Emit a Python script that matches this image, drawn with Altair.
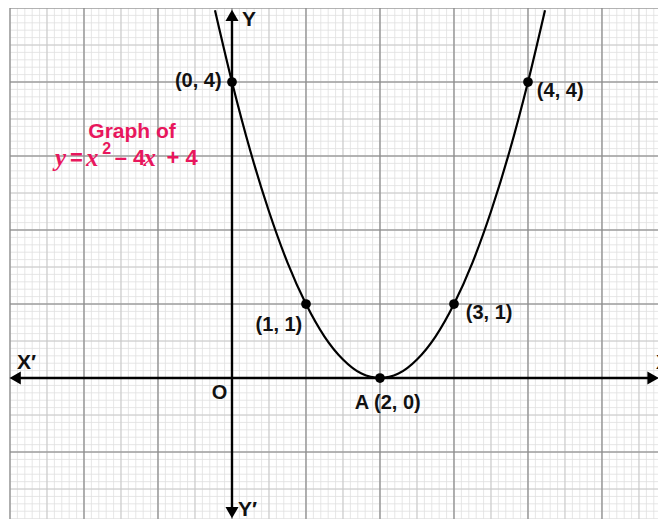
import altair as alt
import pandas as pd

# ---- scale domains (data units) ----
X_MIN, X_MAX = -3.027, 5.757
Y_MIN, Y_MAX = -1.905, 5.0

# ---- parabola y = x^2 - 4x + 4 ----
curve_x = [-0.23, 0, 0.25, 0.5, 0.75, 1, 1.25, 1.5, 1.75, 2, 2.25, 2.5, 2.75, 3, 3.25, 3.5, 3.75, 4, 4.23]
curve_y = [4.97, 4, 3.06, 2.25, 1.56, 1, 0.56, 0.25, 0.06, 0, 0.06, 0.25, 0.56, 1, 1.56, 2.25, 3.06, 4, 4.97]

# ---- plotted points ----
pts_x = [0, 1, 2, 3, 4]
pts_y = [4, 1, 0, 1, 4]

# ---- point labels ----
lab_text = ["(0, 4)", "(4, 4)", "(1, 1)", "(3, 1)", "A (2, 0)", "O"]
lab_x = [-0.14, 4.12, 0.95, 3.16, 1.66, -0.17]
lab_y = [4.01, 3.88, 0.72, 0.88, -0.34, -0.2]
lab_align = ["right", "left", "right", "left", "left", "center"]

# ---- axis names ----
ax_text = ["X\u2032", "Y", "Y\u2032"]
ax_x = [-2.905, 0.135, 0.08]
ax_y = [0.2, 4.84, -1.79]
xr_text = ["X"]
xr_x = [5.73]
xr_y = [0.2]

# ---- graph paper lines ----
minor_x = [round(-3 + i * 0.1, 1) for i in range(88)]
minor_y = [round(-1.9 + i * 0.1, 1) for i in range(70)]
major_x = [-3, -2, -1, 0, 1, 2, 3, 4, 5]
major_y = [-1, 0, 1, 2, 3, 4, 5]

# ---- axes with arrowheads ----
arrow_shape = ["triangle-left", "triangle-right", "triangle-up", "triangle-down"]
arrow_x = [-2.93, 5.69, 0, 0]
arrow_y = [0, 0, 4.9, -1.82]

# ---- equation y = x^2 - 4x + 4 as segments ----
eq_text = ["y", "=", "x", "2", "\u2013 4", "x", "+ 4"]
eq_x = [-2.392, -2.189, -1.973, -1.755, -1.585, -1.195, -0.885]
eq_y = [2.97, 2.97, 2.97, 3.1, 2.97, 2.97, 2.97]
eq_kind = ["it", "b", "it", "sup", "b", "it", "b"]

PINK = "#e8175d"

xs = alt.Scale(domain=[X_MIN, X_MAX], nice=False, zero=False)
ys = alt.Scale(domain=[Y_MIN, Y_MAX], nice=False, zero=False)
X = lambda f: alt.X(f, type="quantitative", scale=xs, axis=None)
Y = lambda f: alt.Y(f, type="quantitative", scale=ys, axis=None)

def vlines(vals, color, width):
    df = pd.DataFrame({"x": vals, "y0": Y_MIN, "y1": Y_MAX})
    return alt.Chart(df).mark_rule(color=color, strokeWidth=width).encode(
        x=X("x"), y=Y("y0"), y2="y1")

def hlines(vals, color, width):
    df = pd.DataFrame({"y": vals, "x0": -3.0, "x1": X_MAX})
    return alt.Chart(df).mark_rule(color=color, strokeWidth=width).encode(
        y=Y("y"), x=X("x0"), x2="x1")

half_x = [v for v in minor_x if abs(v * 2 - round(v * 2)) < 1e-6]
half_y = [v for v in minor_y if abs(v * 2 - round(v * 2)) < 1e-6]

grid = [
    vlines(minor_x, "#e0e0e0", 0.8), hlines(minor_y, "#e0e0e0", 0.8),
    vlines(half_x, "#c6c6c6", 0.9), hlines(half_y, "#c6c6c6", 0.9),
    vlines(major_x, "#888888", 1.1), hlines(major_y, "#888888", 1.1),
]

axes_df = pd.DataFrame({"x0": [-2.9, 0], "x1": [X_MAX - 0.05, 0],
                        "y0": [0, -1.8], "y1": [0, 4.88]})
axes = alt.Chart(axes_df).mark_rule(color="black", strokeWidth=2.4).encode(
    x=X("x0"), x2="x1", y=Y("y0"), y2="y1")

arrows = alt.Chart(pd.DataFrame({"x": arrow_x, "y": arrow_y, "s": arrow_shape})).mark_point(
    filled=True, color="black", opacity=1, size=170).encode(
    x=X("x"), y=Y("y"),
    shape=alt.Shape("s:N", scale=alt.Scale(domain=arrow_shape, range=arrow_shape), legend=None))

curve = alt.Chart(pd.DataFrame({"x": curve_x, "y": curve_y})).mark_line(
    color="black", strokeWidth=2.2, interpolate="monotone").encode(
    x=X("x"), y=Y("y"), order="x:Q")

points = alt.Chart(pd.DataFrame({"x": pts_x, "y": pts_y})).mark_circle(
    color="black", opacity=1, size=95).encode(x=X("x"), y=Y("y"))

lab_df = pd.DataFrame({"t": lab_text, "x": lab_x, "y": lab_y, "a": lab_align})
labels = []
for a in ["left", "right", "center"]:
    labels.append(alt.Chart(lab_df[lab_df.a == a]).mark_text(
        align=a, baseline="middle", font="Liberation Sans", fontWeight="bold",
        fontSize=20, color="#111").encode(x=X("x"), y=Y("y"), text="t:N"))

ax_labels = alt.Chart(pd.DataFrame({"t": ax_text, "x": ax_x, "y": ax_y})).mark_text(
    align="left", baseline="middle", font="Liberation Sans", fontWeight="bold",
    fontSize=21, color="#111").encode(x=X("x"), y=Y("y"), text="t:N")

xr_label = alt.Chart(pd.DataFrame({"t": xr_text, "x": xr_x, "y": xr_y})).mark_text(
    align="left", baseline="middle", font="Liberation Sans", fontWeight="bold",
    fontSize=21, color="#111", clip=True).encode(x=X("x"), y=Y("y"), text="t:N")

title1 = alt.Chart(pd.DataFrame({"t": ["Graph of"], "x": [-1.35], "y": [3.32]})).mark_text(
    align="center", baseline="middle", font="Liberation Sans", fontWeight="bold",
    fontSize=21, color=PINK).encode(x=X("x"), y=Y("y"), text="t:N")

eq_df = pd.DataFrame({"t": eq_text, "x": eq_x, "y": eq_y, "k": eq_kind})
eq_layers = [
    alt.Chart(eq_df[eq_df.k == "it"]).mark_text(
        align="left", baseline="middle", font="Liberation Serif", fontStyle="italic",
        fontWeight="bold", fontSize=25, color=PINK).encode(x=X("x"), y=Y("y"), text="t:N"),
    alt.Chart(eq_df[eq_df.k == "b"]).mark_text(
        align="left", baseline="middle", font="Liberation Sans", fontWeight="bold",
        fontSize=22, color=PINK).encode(x=X("x"), y=Y("y"), text="t:N"),
    alt.Chart(eq_df[eq_df.k == "sup"]).mark_text(
        align="left", baseline="middle", font="Liberation Sans", fontWeight="bold",
        fontSize=16, color=PINK).encode(x=X("x"), y=Y("y"), text="t:N"),
]

chart = alt.layer(*grid, axes, arrows, curve, points, *labels, ax_labels, xr_label,
                  title1, *eq_layers).properties(
    width=650, height=511,
    autosize=alt.AutoSizeParams(type="none"),
    padding=0, background="white",
).configure_view(stroke=None)

chart.save("out.html", embed_options={"renderer": "svg", "actions": False})
